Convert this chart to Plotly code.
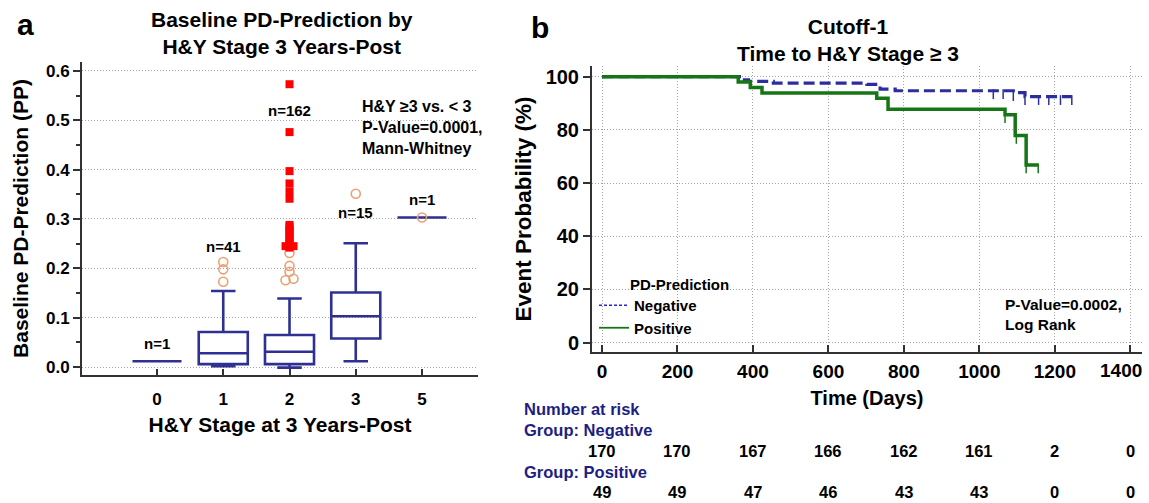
import numpy as np
import plotly.graph_objects as go

W, H = 1149, 503
def px(x): return x / W
def py(y): return 1 - y / H

FONT = "Liberation Sans, Arial, sans-serif"
NAVY = "rgb(46,49,146)"
GREEN = "rgb(22,118,22)"
ORANGE = "rgb(236,160,115)"
GRID = "rgb(165,165,165)"
AXIS = "rgb(50,50,50)"

# ---------------- Panel a data ----------------
stage_labels = ["0", "1", "2", "3", "5"]
stage_pos = [0, 1, 2, 3, 4]
q1 = [0.012, 0.006, 0.006, 0.058, 0.303]
median = [0.012, 0.028, 0.031, 0.103, 0.303]
q3 = [0.012, 0.071, 0.065, 0.151, 0.303]
lower_fence = [0.012, 0.002, -0.001, 0.012, 0.303]
upper_fence = [0.012, 0.154, 0.139, 0.251, 0.303]
n_labels = ["n=1", "n=41", "n=162", "n=15", "n=1"]
n_label_y = [0.048, 0.244, 0.52, 0.314, 0.339]

outlier_x = [1, 1, 1, 2, 2, 2, 1.94, 2.06, 3, 4]
outlier_y = [0.173, 0.198, 0.213, 0.231, 0.205, 0.193, 0.176, 0.179, 0.351, 0.303]
far_x = [2] * 17 + [1.94, 2.06]
far_y = [0.573, 0.476, 0.397, 0.372, 0.356, 0.341,
         0.288, 0.284, 0.279, 0.274, 0.269, 0.264, 0.259, 0.254, 0.249, 0.245, 0.242,
         0.245, 0.245]

# ---------------- Panel b data ----------------
neg_t = [0, 371, 388, 454, 702, 737, 777, 1090, 1121, 1245]
neg_s = [100, 98.8, 98.2, 97.6, 97.1, 95.3, 94.7, 94.0, 92.5, 92.5]
pos_t = [0, 361, 393, 424, 728, 758, 1068, 1095, 1124, 1156]
pos_s = [100, 97.96, 95.92, 93.88, 91.84, 87.76, 85.7, 77.9, 66.8, 66.8]
neg_cens = [1037, 1063, 1090, 1121, 1157, 1184, 1215, 1245]
pos_cens = [1068, 1098, 1124, 1156]
risk_times = [0, 200, 400, 600, 800, 1000, 1200, 1400]
neg_risk = [170, 170, 167, 166, 162, 161, 2, 0]
pos_risk = [49, 49, 47, 46, 43, 43, 0, 0]


def step_at(t, s, c):
    idx = np.searchsorted(np.array(t), np.array(c), side="right") - 1
    return np.array(s)[idx]


fig = go.Figure()

# Boxes
fig.add_trace(go.Box(
    x=stage_pos, q1=q1, median=median, q3=q3,
    lowerfence=lower_fence, upperfence=upper_fence,
    width=0.74, whiskerwidth=0.5, boxpoints=False,
    line=dict(color=NAVY, width=2.6), fillcolor="rgba(0,0,0,0)",
    xaxis="x", yaxis="y", showlegend=False, hoverinfo="skip"))
fig.add_trace(go.Scatter(
    x=outlier_x, y=outlier_y, mode="markers",
    marker=dict(symbol="circle-open", size=9, color=ORANGE, line=dict(width=1.6, color=ORANGE)),
    xaxis="x", yaxis="y", showlegend=False))
fig.add_trace(go.Scatter(
    x=far_x, y=far_y, mode="markers",
    marker=dict(symbol="square", size=8, color="rgb(255,0,0)"),
    xaxis="x", yaxis="y", showlegend=False))

# KM curves
fig.add_trace(go.Scatter(
    x=neg_t, y=neg_s, mode="lines", line=dict(color="rgb(44,46,160)", width=3.2, dash="11px,5px", shape="hv"),
    xaxis="x2", yaxis="y2", showlegend=False))
fig.add_trace(go.Scatter(
    x=pos_t, y=pos_s, mode="lines", line=dict(color=GREEN, width=3.5, shape="hv"),
    xaxis="x2", yaxis="y2", showlegend=False))
fig.add_trace(go.Scatter(
    x=neg_cens, y=step_at(neg_t, neg_s, neg_cens) - 1.3, mode="markers",
    marker=dict(symbol="line-ns-open", size=7, color=NAVY, line=dict(color=NAVY, width=1.5)),
    xaxis="x2", yaxis="y2", showlegend=False))
fig.add_trace(go.Scatter(
    x=pos_cens, y=step_at(pos_t, pos_s, pos_cens) - 1.3, mode="markers",
    marker=dict(symbol="line-ns-open", size=7, color=GREEN, line=dict(color=GREEN, width=1.5)),
    xaxis="x2", yaxis="y2", showlegend=False))

# legend dummies
fig.add_trace(go.Scatter(x=[None], y=[None], mode="lines", name="Negative",
                         line=dict(color="rgb(40,40,200)", width=1.5, dash="3px,2px"),
                         xaxis="x2", yaxis="y2"))
fig.add_trace(go.Scatter(x=[None], y=[None], mode="lines", name="Positive",
                         line=dict(color=GREEN, width=1.8),
                         xaxis="x2", yaxis="y2"))

bold = dict(family=FONT, weight="bold", color="black")

ann = []
def add_text(text, x, y, size, xanchor="center", color="black", xref="paper", yref="paper",
             align="center", xshift=0):
    ann.append(dict(text=text, x=x, y=y, xref=xref, yref=yref, showarrow=False,
                    xanchor=xanchor, yanchor="middle", align=align, xshift=xshift,
                    font=dict(family=FONT, size=size, weight="bold", color=color)))

add_text("a", px(25), py(25), 30)
add_text("b", px(540), py(27), 30)
add_text("Baseline PD-Prediction by<br>H&Y Stage 3 Years-Post", px(282), py(33), 21)
add_text("Cutoff-1<br>Time to H&Y Stage ≥ 3", px(848), py(40), 21)
for p, lab, ly in zip(stage_pos, n_labels, n_label_y):
    add_text(lab, p, ly, 15, xref="x", yref="y")
add_text("H&Y ≥3 vs. < 3<br>P-Value=0.0001,<br>Mann-Whitney", px(360), py(127), 16,
         xanchor="left", align="left")
add_text("PD-Prediction", px(628), py(284), 15, xanchor="left")
add_text("P-Value=0.0002,<br>Log Rank", px(1003), py(314), 15.5, xanchor="left", align="left")
RISK = "rgb(30,30,130)"
add_text("Number at risk", px(522), py(409), 16.5, xanchor="left", color=RISK)
add_text("Group: Negative", px(522), py(430), 16.5, xanchor="left", color=RISK)
add_text("Group: Positive", px(522), py(472), 16.5, xanchor="left", color=RISK)
for t, a, b in zip(risk_times, neg_risk, pos_risk):
    add_text(str(a), t, py(451), 16.5, xref="x2")
    add_text(str(b), t, py(492), 16.5, xref="x2")

# time-axis tick labels; the last one is drawn as a label nudged inside the page
time_ticktext = [str(t) for t in risk_times]
last_label = time_ticktext[-1]
time_ticktext[-1] = ""
add_text(last_label, risk_times[-1], py(370.5), 19, xref="x2", xshift=-9)

common_axis = dict(showline=True, linecolor=AXIS, linewidth=2, zeroline=False, automargin=False,
                   tickcolor=AXIS, tickwidth=2, gridcolor=GRID, griddash="1px,2px", gridwidth=1)

fig.update_layout(
    width=W, height=H, margin=dict(l=0, r=0, t=0, b=0, autoexpand=False),
    paper_bgcolor="white", plot_bgcolor="white",
    font=dict(family=FONT, color="black"),
    annotations=ann,
    showlegend=True,
    legend=dict(x=px(594), y=py(289), xanchor="left", yanchor="top",
                bgcolor="rgba(0,0,0,0)", font=dict(family=FONT, size=15, weight="bold"),
                tracegroupgap=0, itemwidth=30),
    xaxis=dict(domain=[px(82), px(478)], range=[-1.132, 4.845], anchor="y",
               tickvals=stage_pos, ticktext=stage_labels, ticks="inside", ticklen=6,
               showgrid=False, tickfont=dict(size=17, **bold), ticklabelstandoff=8,
               title=dict(text="H&Y Stage at 3 Years-Post", font=dict(size=21, **bold), standoff=9),
               **common_axis),
    yaxis=dict(domain=[py(375), py(62)], range=[-0.016, 0.618], anchor="x",
               dtick=0.1, tick0=0, tickformat=".1f", ticks="outside", ticklen=7,
               minor=dict(dtick=0.05, ticks="outside", ticklen=4, tickcolor=AXIS, showgrid=False),
               showgrid=True, tickfont=dict(size=17, **bold),
               title=dict(text="Baseline PD-Prediction (PP)", font=dict(size=21, **bold), standoff=12),
               **common_axis),
    xaxis2=dict(domain=[px(592), px(1142)], range=[-26.5, 1431], anchor="y2",
                tickvals=risk_times, ticktext=time_ticktext, ticks="inside", ticklen=7, showgrid=True,
                tickfont=dict(size=19, **bold), ticklabelstandoff=1,
                title=dict(text="Time (Days)", font=dict(size=20, **bold), standoff=10),
                **common_axis),
    yaxis2=dict(domain=[py(352), py(66)], range=[-3.5, 104], anchor="x2",
                dtick=20, tick0=0, ticks="outside", ticklen=7, showgrid=True,
                tickfont=dict(size=20, **bold),
                title=dict(text="Event Probability (%)", font=dict(size=22.5, **bold), standoff=8),
                **common_axis),
)

fig.write_html("out.html", config={"displayModeBar": False},
               post_script="document.body.style.margin='0';document.body.style.overflow='hidden';"
                           "document.documentElement.style.overflow='hidden';")
